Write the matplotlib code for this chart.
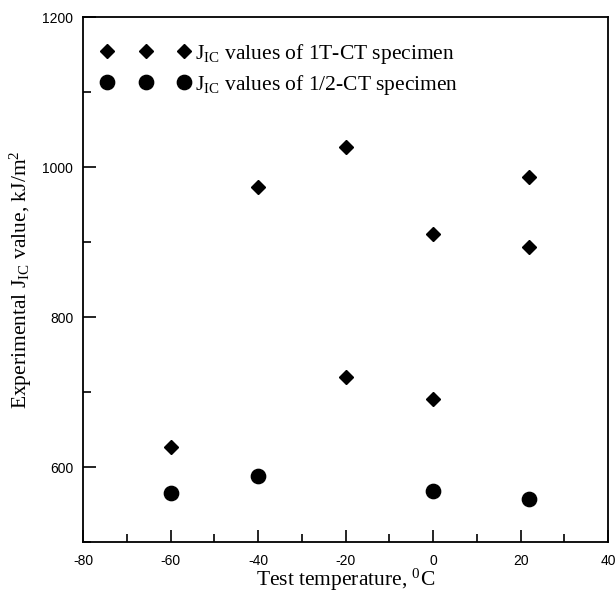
import numpy as np
import matplotlib
matplotlib.use("Agg")
import matplotlib.pyplot as plt
from matplotlib.ticker import MultipleLocator

plt.rcParams['mathtext.fontset'] = 'custom'
plt.rcParams['mathtext.rm'] = 'Liberation Serif'
plt.rcParams['mathtext.it'] = 'Liberation Serif:italic'
plt.rcParams['axes.unicode_minus'] = False

# J_IC data
temp_1t = [-60, -40, -20, -20, 0, 0, 22, 22]
jic_1t = [627, 974, 1027, 720, 911, 691, 987, 893]

temp_half = [-60, -40, 0, 22]
jic_half = [565, 588, 568, 557]

serif = 'Liberation Serif'
sans = 'Liberation Sans'

fig = plt.figure(figsize=(6.15, 5.92), dpi=100)
ax = fig.add_axes([0.135, 0.0845, 0.854, 0.8865])

ax.plot(temp_1t, jic_1t, linestyle='none', marker='D', markersize=6.8,
        color='black', label=r'$\mathrm{J_{IC}}$ values of 1T-CT specimen')
ax.plot(temp_half, jic_half, linestyle='none', marker='o', markersize=10.3,
        color='black', label=r'$\mathrm{J_{IC}}$ values of 1/2-CT specimen')

ax.set_xlim(-80, 40)
ax.set_ylim(500, 1200)
ax.xaxis.set_major_locator(MultipleLocator(20))
ax.xaxis.set_minor_locator(MultipleLocator(10))
ax.yaxis.set_major_locator(MultipleLocator(200))
ax.yaxis.set_minor_locator(MultipleLocator(100))
ax.tick_params(which='both', direction='in', top=False, right=False, width=1.2)
ax.tick_params(which='major', length=9, labelsize=10)
ax.tick_params(axis='y', which='major', pad=7)
ax.tick_params(axis='x', which='major', pad=8.5)
ax.tick_params(which='minor', length=6)
for lbl in ax.get_xticklabels() + ax.get_yticklabels():
    lbl.set_fontfamily(sans)
for sp in ax.spines.values():
    sp.set_linewidth(1.3)

ax.set_xlabel(r'Test temperature, $\mathrm{^0}$C', fontfamily=serif, fontsize=15.5, labelpad=-1)
ax.set_ylabel(r'Experimental $\mathrm{J_{IC}}$ value, kJ/m$\mathrm{^2}$', fontfamily=serif,
              fontsize=15.5, labelpad=6)

ax.legend(loc='upper left', numpoints=3, frameon=False, handlelength=4.2,
          handletextpad=0.2, prop={'family': serif, 'size': 15.5},
          bbox_to_anchor=(-0.004, 0.99), labelspacing=0.32)

fig.savefig('out.png', dpi=100)
